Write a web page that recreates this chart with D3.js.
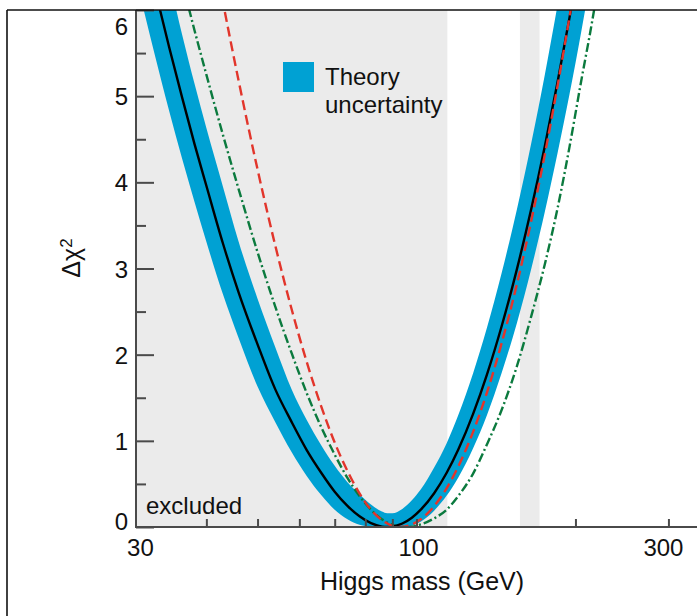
<!DOCTYPE html>
<html>
<head>
<meta charset="utf-8">
<script src="https://cdn.jsdelivr.net/npm/d3@7"></script>
<style>
  html, body { margin: 0; padding: 0; background: #fff; }
  svg { display: block; }
  text { font-family: "Liberation Sans", Arial, Helvetica, sans-serif; fill: #111; }
</style>
</head>
<body>
<svg id="chart" width="697" height="616"></svg>
<script>
// ---------- data ----------
const xDomain = [29.43, 339.8];          // Higgs mass range shown (GeV)
const yDomain = [0, 6];                  // Δχ² range shown
const xTickValues = [40, 50, 60, 70, 80, 90, 100, 200, 300];
const xTickLabels = [30, 100, 300];
const yMajorTicks = [0, 1, 2, 3, 4, 5, 6];
const yMinorTicks = [0.5, 1.5, 2.5, 3.5, 4.5, 5.5];
const excludedRanges = [[29.43, 114.4], [157, 171]];

// blue band (theory uncertainty) and black best-fit curve
const bandMass  = [28,30,32,34,36,38,40,43,46,50,54,58,62,66,70,74,78,82,86,88,90,94,98,102,108,114,120,128,136,145,155,165,175,185,195,205,215,225];
const bandLower = [6.94,6.16,5.46,4.83,4.27,3.77,3.31,2.70,2.20,1.63,1.22,0.87,0.59,0.37,0.20,0.09,0.025,0.003,0,0,0,0,0.015,0.065,0.19,0.362,0.575,0.913,1.30,1.79,2.37,3.00,3.66,4.34,5.03,5.74,6.46,7.19];
const bandUpper = [8.6,7.75,7.06,6.36,5.71,5.14,4.63,3.95,3.32,2.65,2.09,1.60,1.24,0.95,0.71,0.52,0.38,0.26,0.18,0.16,0.16,0.21,0.31,0.44,0.69,0.97,1.30,1.785,2.314,2.95,3.69,4.46,5.25,6.06,6.88,7.71,8.54,9.37];
const blackChi2 = [7.72,6.97,6.23,5.57,4.98,4.44,3.96,3.29,2.73,2.12,1.60,1.22,0.89,0.63,0.41,0.245,0.124,0.044,0.005,0,0.005,0.041,0.108,0.204,0.392,0.627,0.90,1.313,1.772,2.333,2.996,3.696,4.419,5.164,5.92,6.69,7.46,8.24];

// red dashed curve
const redMass = [38,40,43,46,50,54,58,62,66,70,74,78,82,86,90,93,98,102,108,114,120,128,136,145,155,165,175,185,195,205];
const redChi2 = [7.86,7.11,6.09,5.19,4.15,3.27,2.53,1.91,1.40,0.98,0.65,0.39,0.20,0.08,0.014,0,0.030,0.092,0.242,0.448,0.703,1.104,1.563,2.136,2.823,3.558,4.324,5.12,5.93,6.76];

// green dash-dot curve
const greenMass = [32,34,36,38,40,43,46,50,54,58,62,66,70,74,78,82,86,90,95,98,102,108,114,120,128,136,145,155,165,175,185,195,205,215,225,235];
const greenChi2 = [7.55,6.91,6.32,5.76,5.25,4.55,3.93,3.19,2.56,2.02,1.55,1.16,0.84,0.57,0.36,0.20,0.09,0.025,0,0.005,0.03,0.10,0.20,0.36,0.62,0.96,1.36,1.87,2.45,3.05,3.70,4.42,5.17,5.86,6.6,7.35];

// ---------- drawing ----------
const svg = d3.select("#chart");
const L = 136, R = 697, T = 10, B = 527;
const FS = "24px";

const x = d3.scaleLog().domain(xDomain).range([L, R]);
const y = d3.scaleLinear().domain(yDomain).range([B, T]);

svg.append("defs").append("clipPath").attr("id", "plotclip")
  .append("rect").attr("x", L).attr("y", T).attr("width", R - L).attr("height", B - T);

const plot = svg.append("g").attr("clip-path", "url(#plotclip)");

// grey exclusion regions
plot.selectAll("rect.excl").data(excludedRanges).join("rect")
  .attr("class", "excl")
  .attr("x", d => x(d[0]))
  .attr("y", T)
  .attr("width", d => x(d[1]) - x(d[0]))
  .attr("height", B - T)
  .attr("fill", "#ebebeb");

// blue band
const bandData = bandMass.map((m, i) => ({m, lo: bandLower[i], hi: bandUpper[i]}));
plot.append("path")
  .datum(bandData)
  .attr("fill", "#00a1d3")
  .attr("d", d3.area().x(d => x(d.m)).y0(d => y(d.lo)).y1(d => y(d.hi)).curve(d3.curveMonotoneX));

const line = d3.line().x(d => x(d[0])).y(d => y(d[1])).curve(d3.curveMonotoneX);

// green dash-dot
plot.append("path")
  .datum(greenMass.map((m, i) => [m, greenChi2[i]]))
  .attr("fill", "none").attr("stroke", "#0b7a3e").attr("stroke-width", 2.4)
  .attr("stroke-dasharray", "9,3,2,3")
  .attr("d", line);

// black best fit
plot.append("path")
  .datum(bandMass.map((m, i) => [m, blackChi2[i]]))
  .attr("fill", "none").attr("stroke", "#000").attr("stroke-width", 2.4)
  .attr("d", line);

// red dashed
plot.append("path")
  .datum(redMass.map((m, i) => [m, redChi2[i]]))
  .attr("fill", "none").attr("stroke", "#e2352b").attr("stroke-width", 2.4)
  .attr("stroke-dasharray", "10,5")
  .attr("d", line);

// ---------- axes ----------
const axisColor = "#4a4a4a";

// y major ticks (inward)
const yAxis = svg.append("g").attr("transform", `translate(${L},0)`)
  .call(d3.axisLeft(y).tickValues(yMajorTicks).tickSizeInner(-18).tickSizeOuter(0).tickPadding(8).tickFormat(d3.format("d")));
yAxis.select(".domain").remove();
yAxis.selectAll(".tick line").attr("stroke", axisColor).attr("stroke-width", 2);
yAxis.selectAll(".tick text")
  .style("font-family", '"Liberation Sans", Arial, sans-serif')
  .style("font-size", FS).attr("fill", "#111")
  .attr("dy", d => d === 6 ? "1.0em" : (d === 0 ? "0.12em" : "0.36em"));

// y minor ticks
const yMinor = svg.append("g").attr("transform", `translate(${L},0)`)
  .call(d3.axisLeft(y).tickValues(yMinorTicks).tickSizeInner(-10).tickSizeOuter(0).tickFormat(""));
yMinor.select(".domain").remove();
yMinor.selectAll(".tick line").attr("stroke", axisColor).attr("stroke-width", 2);

// x ticks (inward)
const xAxis = svg.append("g").attr("transform", `translate(0,${B})`)
  .call(d3.axisBottom(x).tickValues(xTickValues).tickSizeInner(-8).tickSizeOuter(0).tickFormat(""));
xAxis.select(".domain").remove();
xAxis.selectAll(".tick line").attr("stroke", axisColor).attr("stroke-width", 2);

// x tick labels
svg.append("g").selectAll("text").data(xTickLabels).join("text")
  .attr("x", d => x(d) + (d === 30 ? 0 : (d === 300 ? -5 : 2)))
  .attr("y", B + 29)
  .attr("text-anchor", "middle")
  .style("font-size", FS)
  .text(d => d);

// axis lines
svg.append("line").attr("x1", L).attr("x2", L).attr("y1", T).attr("y2", B + 1)
  .attr("stroke", axisColor).attr("stroke-width", 2);
svg.append("line").attr("x1", L - 1).attr("x2", R).attr("y1", B).attr("y2", B)
  .attr("stroke", axisColor).attr("stroke-width", 2);

// outer frame (top and left)
svg.append("line").attr("x1", 7).attr("x2", R).attr("y1", T).attr("y2", T)
  .attr("stroke", "#111").attr("stroke-width", 1.6);
svg.append("line").attr("x1", 7).attr("x2", 7).attr("y1", T).attr("y2", 616)
  .attr("stroke", "#111").attr("stroke-width", 1.6);

// axis titles
svg.append("text")
  .attr("x", 422).attr("y", 590)
  .attr("text-anchor", "middle")
  .style("font-size", "25px")
  .text("Higgs mass (GeV)");

const yt = svg.append("text")
  .attr("transform", "translate(80,258) rotate(-90)")
  .attr("text-anchor", "middle")
  .style("font-size", "25px");
yt.append("tspan").text("Δχ");
yt.append("tspan").attr("dy", "-0.45em").style("font-size", "17px").text("2");

// legend
svg.append("rect").attr("x", 283).attr("y", 62).attr("width", 31).attr("height", 30).attr("fill", "#00a1d3");
svg.append("text").attr("x", 325).attr("y", 85).style("font-size", FS).text("Theory");
svg.append("text").attr("x", 325).attr("y", 113).style("font-size", FS).text("uncertainty");

// excluded label
svg.append("text").attr("x", 146).attr("y", 514).style("font-size", FS).text("excluded");
</script>
</body>
</html>
